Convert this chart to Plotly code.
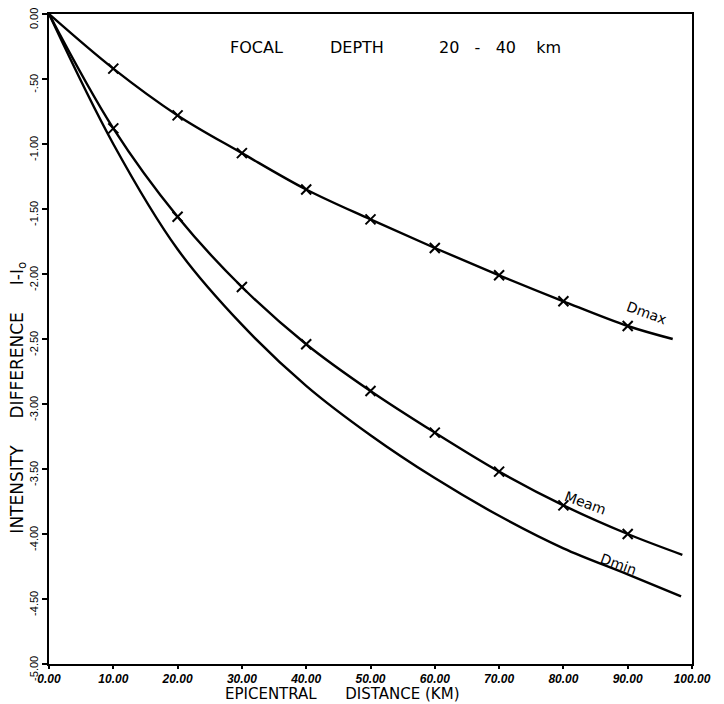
import plotly.graph_objects as go

# Curve data (epicentral distance in km, intensity difference I-Io)
dist_curve = [0, 10, 20, 30, 40, 50, 60, 70, 80, 90]
dmax_curve = [0.0, -0.42, -0.78, -1.07, -1.35, -1.58, -1.80, -2.01, -2.21, -2.40]
mean_curve = [0.0, -0.88, -1.56, -2.10, -2.54, -2.90, -3.22, -3.52, -3.78, -4.00]
dmin_curve = [0.0, -1.00, -1.81, -2.39, -2.86, -3.24, -3.57, -3.86, -4.11, -4.31]

# End points of the drawn curves
dmax_end = (97.0, -2.50)
mean_end = (98.5, -4.16)
dmin_end = (98.3, -4.48)

# Marked points (crosses)
dist_marks = [10, 20, 30, 40, 50, 60, 70, 80, 90]
dmax_marks = dmax_curve[1:]
mean_marks = mean_curve[1:]

x_ticks = [0, 10, 20, 30, 40, 50, 60, 70, 80, 90, 100]
x_labels = ["0.00", "10.00", "20.00", "30.00", "40.00", "50.00", "60.00",
            "70.00", "80.00", "90.00", "100.00"]
y_ticks = [0, -0.5, -1, -1.5, -2, -2.5, -3, -3.5, -4, -4.5, -5]
y_labels = ["0.00", "-.50", "-1.00", "-1.50", "-2.00", "-2.50", "-3.00",
            "-3.50", "-4.00", "-4.50", "-5.00"]

NB = "&nbsp;"

fig = go.Figure()

line_style = dict(color="black", width=2.4, shape="spline", smoothing=1.0)

for xs, ys, end in [(dist_curve, dmax_curve, dmax_end),
                    (dist_curve, mean_curve, mean_end),
                    (dist_curve, dmin_curve, dmin_end)]:
    fig.add_trace(go.Scatter(x=xs + [end[0]], y=ys + [end[1]], mode="lines",
                             line=line_style, showlegend=False, hoverinfo="skip"))

for ys in (dmax_marks, mean_marks):
    fig.add_trace(go.Scatter(x=dist_marks, y=ys, mode="markers",
                             marker=dict(symbol="x-thin", size=10, color="black",
                                         line=dict(color="black", width=2)),
                             showlegend=False, hoverinfo="skip"))

# The page body adds an 8px offset, so the figure is 8px smaller than the window.
fig.update_layout(
    width=716, height=696,
    margin=dict(l=41, r=32, t=6, b=40, autoexpand=False),
    paper_bgcolor="white", plot_bgcolor="white",
    font=dict(family="Liberation Sans, Arial, sans-serif", color="black"),
    xaxis=dict(range=[0, 100], tickvals=x_ticks, ticktext=x_labels, automargin=False,
               showgrid=False, zeroline=False, showline=True, linecolor="black",
               linewidth=2, mirror=True, ticks="outside", ticklen=3, tickwidth=1.5,
               tickcolor="black", ticklabeloverflow="allow",
               tickfont=dict(size=12, style="italic", weight="bold",
                             family="Liberation Sans, Arial, sans-serif")),
    yaxis=dict(range=[-5, 0], tickvals=y_ticks, ticktext=y_labels, automargin=False,
               showgrid=False, zeroline=False, showline=True, linecolor="black",
               linewidth=2, mirror=True, ticks="outside", ticklen=5, tickwidth=1.5,
               tickcolor="black", tickangle=-90, ticklabeloverflow="allow",
               ticklabelshift=6,
               tickfont=dict(size=11, family="Liberation Sans, Arial, sans-serif")),
)

dv = "DejaVu Sans, sans-serif"


def note(text, x, y, size, ref="paper", angle=0, yanchor="middle"):
    return dict(text=text, xref=ref, yref=ref, x=x, y=y, showarrow=False,
                xanchor="center", yanchor=yanchor, textangle=angle,
                font=dict(size=size, family=dv, color="black"))


annotations = [
    note("FOCAL", 0.322, 0.948, 16),
    note("DEPTH", 0.479, 0.948, 16),
    note("20" + NB * 3 + "-" + NB * 3 + "40" + NB * 4 + "km", 0.701, 0.948, 16),
    note("EPICENTRAL" + NB * 6 + "DISTANCE" + NB + "(KM)", 0.456, -0.063, 15,
         yanchor="bottom"),
    note("INTENSITY" + NB * 5 + "DIFFERENCE" + NB * 5 + "I-I<sub>o</sub>",
         -0.048, 0.41, 17, angle=-90),
    note("Dmax", 93.0, -2.30, 14, ref="x", angle=20),
    note("Meam", 83.5, -3.76, 14, ref="x", angle=20),
    note("Dmin", 88.5, -4.23, 14, ref="x", angle=20),
]
for a in annotations:
    if a["xref"] == "x":
        a["yref"] = "y"
fig.update_layout(annotations=annotations)

fig.write_html("out.html")
